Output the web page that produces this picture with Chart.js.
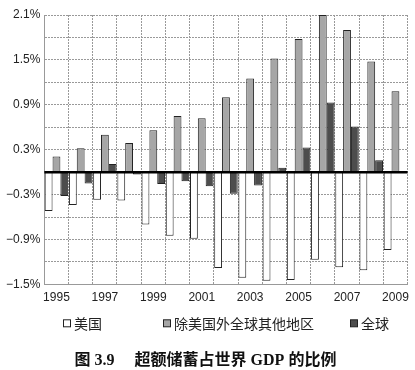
<!DOCTYPE html>
<html><head><meta charset="utf-8">
<script src="https://cdn.jsdelivr.net/npm/chart.js@4/dist/chart.umd.min.js"></script>
<style>html,body{margin:0;padding:0;background:#fff;}#c{display:block;}</style>
</head><body>
<canvas id="c" width="415" height="370"></canvas>
<script>
const categories = ['1995','1996','1997','1998','1999','2000','2001','2002','2003','2004','2005','2006','2007','2008','2009'];
const usValues    = [-0.52,-0.44,-0.37,-0.38,-0.70,-0.85,-0.89,-1.28,-1.41,-1.45,-1.44,-1.17,-1.27,-1.31,-1.04];
const restValues  = [0.21,0.32,0.50,0.39,0.56,0.75,0.72,1.00,1.25,1.52,1.78,2.10,1.90,1.48,1.08];
const globalValues= [-0.32,-0.15,0.11,-0.03,-0.16,-0.12,-0.19,-0.29,-0.18,0.06,0.33,0.93,0.61,0.16,0.01];
const seriesNames = ['美国','除美国外全球其他地区','全球'];
const yTickMin = -1.5, yTickMax = 2.1, yTickStep = 0.3;
const chartTitle = '图 3.9\u3000 超额储蓄占世界 GDP 的比例';

const fontLatin = "'Liberation Sans', Arial, sans-serif";
const fontCJK = "'Noto Sans CJK SC', sans-serif";

const zeroLine = {
  id:'zeroLine',
  afterDatasetsDraw(chart){
    const {ctx, chartArea, scales} = chart;
    const y = scales.y.getPixelForValue(0);
    ctx.save();
    ctx.strokeStyle = '#000';
    ctx.lineWidth = 2.5;
    ctx.beginPath();
    ctx.moveTo(chartArea.left, y);
    ctx.lineTo(chartArea.right, y);
    ctx.stroke();
    ctx.restore();
  }
};

// legend drawn in the space reserved above the bottom title
const customLegend = {
  id:'customLegend',
  afterDraw(chart, args, opts){
    const {ctx} = chart;
    const tb = chart.titleBlock;
    const yc = tb.top + opts.offsetY;
    ctx.save();
    ctx.font = opts.fontSize + 'px ' + fontCJK;
    ctx.textBaseline = 'middle';
    ctx.textAlign = 'left';
    chart.data.datasets.forEach((ds, i) => {
      const x = opts.itemX[i];
      const b = opts.box;
      ctx.fillStyle = ds.backgroundColor;
      ctx.fillRect(x + 0.5, yc - b/2 + 0.5, b, b);
      ctx.strokeStyle = ds.borderColor;
      ctx.lineWidth = 1;
      ctx.strokeRect(x + 0.5, yc - b/2 + 0.5, b, b);
      ctx.fillStyle = '#222';
      ctx.fillText(ds.label, x + b + 4, yc + 1);
    });
    ctx.restore();
  }
};

new Chart(document.getElementById('c'), {
  type:'bar',
  data:{
    labels: categories,
    datasets:[
      {label:seriesNames[0], data:usValues, backgroundColor:'#ffffff', borderColor:'#222', borderWidth:1},
      {label:seriesNames[1], data:restValues, backgroundColor:'#a6a6a6', borderColor:'#222', borderWidth:1},
      {label:seriesNames[2], data:globalValues, backgroundColor:'#4d4d4d', borderColor:'#222', borderWidth:1}
    ]
  },
  options:{
    responsive:false,
    animation:false,
    layout:{padding:{top:15,right:6,left:2,bottom:0}},
    datasets:{bar:{categoryPercentage:0.97, barPercentage:1.0}},
    scales:{
      x:{
        grid:{color:'#999', lineWidth:1, drawTicks:false, offset:true},
        border:{display:true, color:'#999', dash:[2,1]},
        ticks:{autoSkip:false, maxRotation:0, padding:6, color:'#222', font:{family:fontLatin, size:12},
          callback:function(v,i){ return i%2===0 ? this.getLabelForValue(v) : ''; }}
      },
      y:{
        min:yTickMin, max:yTickMax,
        grid:{color:'#999', lineWidth:1, drawTicks:false},
        border:{display:true, color:'#999', dash:[2,1]},
        ticks:{stepSize:yTickStep, padding:4, color:'#222', font:{family:fontLatin, size:12},
          callback:function(v,i){
            if(i%2!==0) return '';
            const r = Math.round(v*10)/10;
            return (r<0?'\u2212':'') + Math.abs(r).toFixed(1) + '%';
          }}
      }
    },
    plugins:{
      legend:{display:false},
      customLegend:{itemX:[63,163,350], box:7, fontSize:14, offsetY:12},
      title:{display:true, position:'bottom', text:chartTitle, color:'#111',
        font:{family:"'Liberation Serif', " + fontCJK, size:16, weight:'bold'}, padding:{top:40,bottom:0}},
      tooltip:{enabled:false}
    }
  },
  plugins:[zeroLine, customLegend]
});
</script>
</body></html>
